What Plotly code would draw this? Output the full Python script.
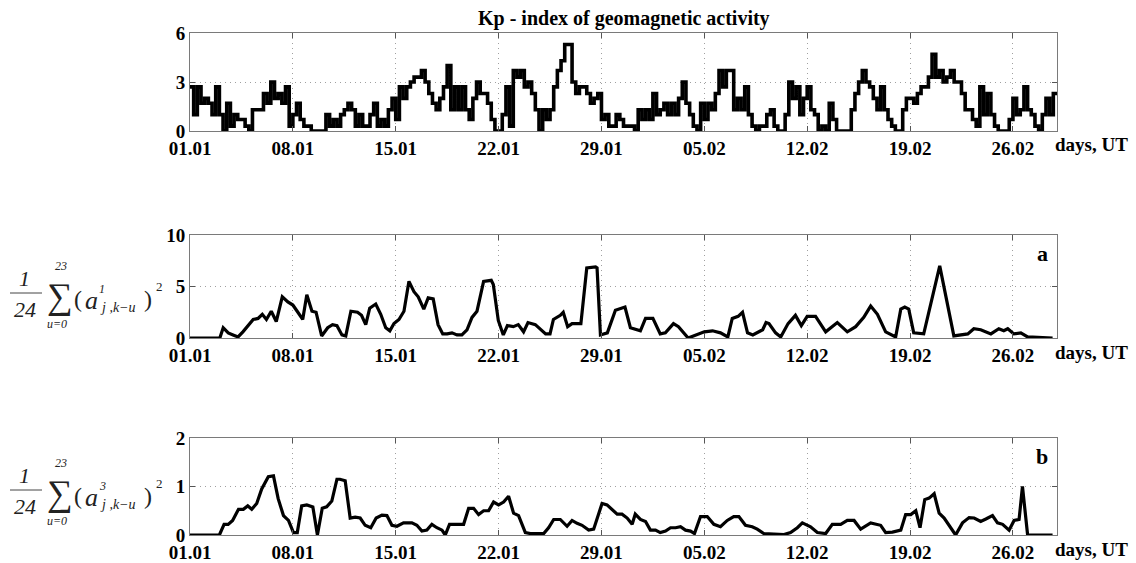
import numpy as np
import plotly.graph_objects as go

W, H = 1136, 563

tick_days = [0, 7, 14, 21, 28, 35, 42, 49, 56]
tick_labels = ["01.01", "08.01", "15.01", "22.01", "29.01", "05.02", "12.02", "19.02", "26.02"]
x_end = 59

# Kp index, 6-hourly values (4 per day) starting 01.01
kp = [
    2.7, 1.0, 2.7, 1.7,  2.0, 1.7, 1.0, 2.7,  1.0, 0.0, 1.7, 0.3,  1.0, 0.7, 0.7, 0.3,
    0.0, 1.3, 1.3, 1.3,  2.3, 1.7, 3.0, 2.0,  2.3, 1.7, 2.7, 0.3,  1.0, 1.7, 0.7, 0.3,
    0.3, 0.0, 0.0, 0.0,  0.0, 1.0, 0.3, 0.7,  0.3, 1.0, 1.3, 1.7,  1.3, 0.3, 1.0, 0.3,
    0.3, 1.0, 1.7, 0.3,  0.7, 0.3, 1.3, 2.0,  0.7, 2.7, 2.0, 2.7,  3.0, 3.3, 3.3, 3.7,
    3.0, 2.3, 1.7, 1.3,  2.0, 2.7, 4.0, 1.3,  2.7, 1.3, 2.7, 1.3,  0.7, 2.0, 3.0, 2.3,
    2.3, 1.7, 0.7, 0.0,  0.0, 1.0, 2.7, 0.3,  3.7, 3.3, 3.7, 2.7,  3.0, 2.3, 1.3, 0.0,
    1.3, 0.7, 1.3, 2.7,  3.7, 4.3, 5.3, 5.3,  3.0, 2.3, 2.7, 2.7,  2.3, 1.7, 2.0, 2.3,
    0.7, 1.0, 0.3, 0.3,  1.0, 0.7, 0.3, 0.3,  0.3, 0.0, 1.3, 0.7,  1.3, 0.7, 2.3, 1.0,
    1.3, 1.7, 1.0, 1.7,  1.0, 2.0, 3.0, 1.7,  1.0, 0.3, 0.0, 1.7,  0.7, 1.7, 1.3, 2.3,
    3.7, 2.7, 3.7, 3.7,  1.3, 2.0, 1.3, 2.7,  1.0, 0.3, 0.0, 0.3,  0.3, 1.0, 1.3, 0.3,
    0.0, 0.0, 1.0, 3.0,  2.0, 2.7, 1.0, 2.0,  2.7, 1.3, 1.0, 0.0,  0.3, 0.0, 1.7, 0.7,
    0.0, 0.0, 0.0, 0.0,  1.3, 2.3, 3.0, 3.7,  3.0, 2.7, 2.0, 1.3,  2.7, 1.3, 0.7, 0.3,
    0.0, 0.0, 1.3, 2.0,  2.0, 1.7, 2.3, 2.7,  2.7, 3.3, 4.7, 3.3,  3.7, 3.0, 3.3, 3.7,
    3.0, 3.0, 2.3, 1.3,  1.3, 0.7, 0.3, 2.7,  1.0, 2.3, 1.0, 0.3,  0.0, 0.0, 0.0, 0.7,
    2.0, 1.0, 1.3, 2.7,  1.3, 1.0, 0.3, 0.0,  1.0, 2.0, 1.0, 2.3,
]
kp_step = 0.25  # days

# panel a
a_days = [0, 2.03, 2.26, 2.6, 2.93, 3.27, 3.6, 3.95, 4.3, 4.63, 4.92, 5.2, 5.53, 5.87, 6.28, 6.66,
          7.0, 7.34, 7.67, 7.95, 8.3, 8.58, 8.96, 9.37, 9.7, 10.0, 10.34, 10.6, 10.95, 11.4, 11.67,
          11.96, 12.23, 12.64, 12.98, 13.32, 13.6, 13.88, 14.22, 14.56, 14.9, 15.24, 15.53, 15.91,
          16.21, 16.55, 16.88, 17.2, 17.5, 17.83, 18.17, 18.5, 18.85, 19.19, 19.53, 19.98, 20.3,
          20.5, 20.64, 20.98, 21.32, 21.6, 22.0, 22.34, 22.7, 23.0, 23.5, 23.84, 24.2, 24.5, 24.73,
          25.2, 25.4, 25.7, 26.0, 26.6, 27.0, 27.6, 27.7, 27.93, 28.4, 28.95, 29.6, 29.97, 30.65,
          31.0, 31.5, 32.0, 32.35, 32.9, 33.24, 33.9, 34.7, 35.0, 35.56, 36.1, 36.6, 36.9, 37.3,
          37.6, 37.94, 38.3, 38.97, 39.2, 39.4, 39.85, 40.2, 40.7, 41.2, 41.6, 42.0, 42.57, 43.26,
          44.05, 44.73, 45.3, 45.85, 46.32, 46.78, 47.34, 48.02, 48.37, 48.64, 48.91, 49.25, 49.93,
          51.02, 51.98, 52.93, 53.34, 53.81, 54.5, 55.04, 55.38, 55.65, 56.06, 56.54, 57.0, 58.7]
a_vals = [0, 0, 1.0, 0.5, 0.3, 0.1, 0.6, 1.2, 1.8, 1.9, 2.3, 1.8, 2.6, 1.6, 4.0, 3.5,
          3.2, 2.5, 1.8, 4.2, 2.6, 2.5, 0.2, 1.0, 1.3, 1.2, 0.3, 0.2, 2.6, 2.5, 2.2,
          1.3, 2.9, 3.3, 2.3, 1.0, 0.7, 1.4, 1.8, 2.6, 5.5, 4.5, 4.0, 2.8,
          3.9, 3.8, 1.3, 0.4, 0.4, 0.5, 0.3, 0.3, 0.8, 2.0, 2.6, 5.5, 5.6,
          5.6, 5.2, 1.7, 0.3, 1.2, 1.1, 1.3, 0.6, 1.5, 1.3, 0.9, 0.4, 0.4, 1.8,
          2.2, 2.5, 1.1, 1.4, 1.4, 6.8, 6.9, 6.8, 0.3, 0.5, 2.7, 3.0, 1.0, 0.7,
          1.9, 1.9, 0.4, 0.5, 1.4, 1.1, 0.0, 0.4, 0.6, 0.7, 0.5, 0.1, 1.9, 2.1,
          2.5, 0.5, 0.3, 0.8, 1.5, 1.4, 0.5, 0.1, 1.4, 2.2, 1.2, 2.1, 2.1, 0.6,
          1.5, 0.6, 1.1, 2.0, 3.1, 2.3, 0.6, 0.1, 2.8, 3.0, 2.8, 0.5, 0.4,
          7.0, 0.2, 0.4, 0.9, 0.8, 0.4, 0.9, 0.7, 0.9, 0.4, 0.5, 0.1, 0.0]

# panel b
b_days = [0, 2.0, 2.32, 2.6, 2.9, 3.3, 3.63, 3.93, 4.2, 4.54, 4.88, 5.33, 5.68, 6.0, 6.36, 6.7,
          7.04, 7.3, 7.6, 7.95, 8.36, 8.67, 9.0, 9.3, 9.65, 10.0, 10.2, 10.56, 10.9, 11.24, 11.58,
          11.92, 12.3, 12.67, 13.06, 13.4, 13.74, 14.08, 14.53, 15.1, 15.44, 15.78, 16.12, 16.46,
          16.8, 17.15, 17.37, 17.66, 18.17, 18.62, 18.96, 19.3, 19.64, 19.98, 20.32, 20.66, 21.0,
          21.34, 21.68, 22.02, 22.36, 22.82, 23.16, 23.62, 24.07, 24.4, 24.75, 25.2, 25.66, 26.0,
          26.34, 26.68, 27.13, 27.47, 28.04, 28.38, 28.73, 29.07, 29.4, 29.75, 30.09, 30.3, 30.65,
          31.0, 31.33, 31.68, 32.0, 32.36, 32.7, 33.04, 33.38, 33.72, 34.06, 34.33, 34.74, 35.2,
          35.65, 36.1, 36.56, 37.0, 37.35, 37.8, 38.26, 38.6, 39.05, 39.74, 40.42, 40.87, 41.33,
          41.67, 42.23, 42.69, 43.26, 43.71, 44.28, 44.73, 45.19, 45.64, 46.32, 47.0, 47.34, 47.8,
          48.37, 48.7, 49.05, 49.39, 49.68, 50.0, 50.3, 50.64, 50.98, 51.32, 51.66, 52.1, 52.57,
          53.02, 53.36, 53.81, 54.16, 54.61, 54.95, 55.3, 55.74, 56.08, 56.42, 56.65, 57.0, 58.7]
b_vals = [0, 0, 0.22, 0.22, 0.3, 0.53, 0.53, 0.6, 0.53, 0.65, 0.95, 1.2, 1.22, 0.75, 0.4, 0.3,
          0.05, 0.05, 0.6, 0.62, 0.58, 0.0, 0.55, 0.58, 0.7, 1.15, 1.15, 1.12, 0.35, 0.37, 0.35,
          0.2, 0.15, 0.35, 0.41, 0.4, 0.2, 0.18, 0.25, 0.25, 0.2, 0.08, 0.1, 0.22,
          0.15, 0.1, 0.0, 0.22, 0.22, 0.22, 0.55, 0.55, 0.42, 0.5, 0.5, 0.68, 0.62,
          0.68, 0.8, 0.45, 0.4, 0.05, 0.03, 0.03, 0.03, 0.15, 0.32, 0.32, 0.18, 0.3,
          0.24, 0.2, 0.1, 0.12, 0.65, 0.62, 0.52, 0.43, 0.43, 0.35, 0.22, 0.43, 0.32,
          0.28, 0.1, 0.1, 0.05, 0.08, 0.15, 0.15, 0.17, 0.1, 0.08, 0.03, 0.38, 0.38,
          0.22, 0.17, 0.3, 0.38, 0.38, 0.2, 0.17, 0.12, 0.03, 0.02, 0.01, 0.05, 0.15,
          0.25, 0.17, 0.05, 0.03, 0.22, 0.22, 0.3, 0.3, 0.12, 0.25, 0.2, 0.05, 0.06,
          0.1, 0.42, 0.42, 0.5, 0.15, 0.73, 0.76, 0.85, 0.45, 0.35, 0.2, 0.0, 0.25,
          0.36, 0.35, 0.28, 0.33, 0.4, 0.25, 0.22, 0.1, 0.3, 0.32, 1.0, 0.0, 0.0]

title_text = "Kp - index of geomagnetic activity"
x_label = "days, UT"
panel_letters = ["a", "b"]
y_ranges = [[0, 6], [0, 10], [0, 2]]
y_ticks = [[0, 3, 6], [0, 5, 10], [0, 1, 2]]

SERIF = "Liberation Serif"

# pixel layout
x0, x1 = 190, 1057
panels_px = [(33, 131), (235, 338), (438, 535)]

def px(x):
    return x / W

def py(y):
    return 1 - y / H

fig = go.Figure()

kp_x = list(np.arange(len(kp)) * kp_step) + [x_end]
kp_y = list(kp) + [kp[-1]]
fig.add_trace(go.Scatter(x=kp_x, y=kp_y, mode="lines", line=dict(color="black", width=3.6, shape="hv"),
                         xaxis="x", yaxis="y", showlegend=False))
fig.add_trace(go.Scatter(x=a_days, y=a_vals, mode="lines", line=dict(color="black", width=3.2),
                         xaxis="x2", yaxis="y2", showlegend=False))
fig.add_trace(go.Scatter(x=b_days, y=b_vals, mode="lines", line=dict(color="black", width=3.2),
                         xaxis="x3", yaxis="y3", showlegend=False))

tickfont = dict(family=SERIF, size=19, color="black", weight="bold")
axcommon = dict(showline=True, linecolor="#7a7a7a", linewidth=1, mirror="ticks",
                ticks="inside", ticklen=5, tickcolor="#555", tickwidth=1,
                showgrid=True, gridcolor="#a0a0a0", griddash="1px,4px", gridwidth=1,
                zeroline=False, tickfont=tickfont, automargin=False)

layout = dict(width=W, height=H, margin=dict(l=0, r=0, t=0, b=0),
              paper_bgcolor="white", plot_bgcolor="white", showlegend=False)
for i, (top, bot) in enumerate(panels_px):
    sfx = "" if i == 0 else str(i + 1)
    layout["xaxis" + sfx] = dict(domain=[px(x0), px(x1)], range=[0, x_end], anchor="y" + sfx,
                                 tickmode="array", tickvals=tick_days, ticktext=tick_labels, **axcommon)
    layout["yaxis" + sfx] = dict(domain=[py(bot), py(top)], range=y_ranges[i], anchor="x" + sfx,
                                 tickmode="array", tickvals=y_ticks[i], **axcommon)
fig.update_layout(**layout)

anns = []
anns.append(dict(text="<b>" + title_text + "</b>", x=px((x0 + x1) / 2), y=py(19), xref="paper", yref="paper",
                 xanchor="center", yanchor="middle", showarrow=False,
                 font=dict(family=SERIF, size=20, color="black")))
for top, bot in panels_px:
    anns.append(dict(text="<b>" + x_label + "</b>", x=px(1053), y=py(bot + 14), xref="paper", yref="paper",
                     xanchor="left", yanchor="middle", showarrow=False,
                     font=dict(family=SERIF, size=19, color="black")))
for letter, (top, bot) in zip(panel_letters, panels_px[1:]):
    anns.append(dict(text="<b>" + letter + "</b>", x=px(1042), y=py(top + 18), xref="paper", yref="paper",
                     xanchor="center", yanchor="middle", showarrow=False,
                     font=dict(family=SERIF, size=22, color="black")))

def formula(dy, sup):
    items = [
        ("<i>1</i>", 24, 475, 22, "center"),
        ("<i>24</i>", 25, 506, 22, "center"),
        ("\u2211", 60, 493, 36, "center"),
        ("<i>23</i>", 61, 463, 12, "center"),
        ("<i>u=0</i>", 57, 521, 12, "center"),
        ("(", 78, 496, 24, "center"),
        ("<i>a</i>", 91, 497, 26, "center"),
        ("<i>" + sup + "</i>", 102, 486, 12, "center"),
        ("<i>j ,k\u2212u</i>", 98, 504, 14, "left"),
        (")", 148, 496, 24, "center"),
        ("2", 159, 483, 13, "center"),
    ]
    for t, x, y, s, xa in items:
        anns.append(dict(text=t, x=px(x), y=py(y + dy), xref="paper", yref="paper", xanchor=xa,
                         yanchor="middle", showarrow=False,
                         font=dict(family=SERIF, size=s, color="#222")))
    return dict(type="line", xref="paper", yref="paper", x0=px(10), x1=px(42),
                y0=py(490 + dy), y1=py(490 + dy), line=dict(color="#444", width=1))

shapes = [formula(-197, "1"), formula(0, "3")]
fig.update_layout(annotations=anns, shapes=shapes)

fig.write_html("out.html")
